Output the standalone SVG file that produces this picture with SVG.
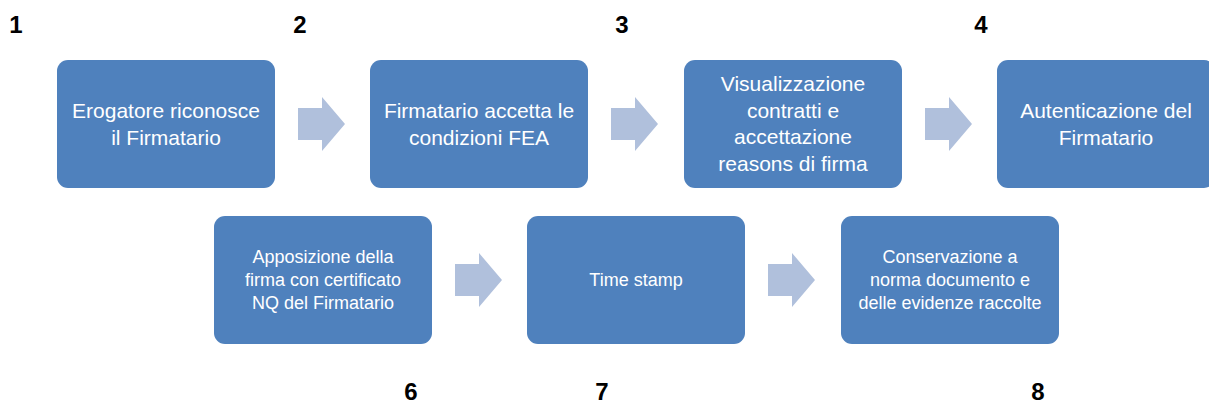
<svg xmlns="http://www.w3.org/2000/svg" width="1209" height="403" viewBox="0 0 1209 403">
<style>
.box{fill:#4F81BD;}
.t1{font-family:"Liberation Sans",Arial,sans-serif;font-size:21px;fill:#FFFFFF;text-anchor:middle;}
.t2{font-family:"Liberation Sans",Arial,sans-serif;font-size:18px;fill:#FFFFFF;text-anchor:middle;}
.num{font-family:"Liberation Sans",Arial,sans-serif;font-size:24px;font-weight:bold;fill:#000000;text-anchor:middle;}
.arr{fill:#B0C0DC;}
</style>
<defs>
<path id="arrow" d="M0,-16 H24 V-27 L47,0 L24,27 V16 H0 Z"/>
</defs>
<rect width="1209" height="403" fill="#FFFFFF"/>
<g id="numbers">
<text class="num" x="16" y="33">1</text>
<text class="num" x="300" y="33">2</text>
<text class="num" x="622" y="33">3</text>
<text class="num" x="981" y="33">4</text>
<text class="num" x="411" y="400">6</text>
<text class="num" x="602" y="400">7</text>
<text class="num" x="1038" y="400">8</text>
</g>
<g id="connectors">
<use href="#arrow" class="arr" x="298" y="124"/>
<use href="#arrow" class="arr" x="611" y="124"/>
<use href="#arrow" class="arr" x="925" y="124"/>
<use href="#arrow" class="arr" x="455" y="280"/>
<use href="#arrow" class="arr" x="768" y="280"/>
</g>
<g id="node1">
<rect class="box" x="57" y="60" width="218" height="128" rx="11"/>
<text class="t1" x="166" y="118">Erogatore riconosce</text>
<text class="t1" x="166" y="145">il Firmatario</text>
</g>
<g id="node2">
<rect class="box" x="370" y="60" width="218" height="128" rx="11"/>
<text class="t1" x="479" y="118">Firmatario accetta le</text>
<text class="t1" x="479" y="145">condizioni FEA</text>
</g>
<g id="node3">
<rect class="box" x="684" y="60" width="218" height="128" rx="11"/>
<text class="t1" x="793" y="91">Visualizzazione</text>
<text class="t1" x="793" y="118">contratti e</text>
<text class="t1" x="793" y="144">accettazione</text>
<text class="t1" x="793" y="171">reasons di firma</text>
</g>
<g id="node4">
<rect class="box" x="997" y="60" width="218" height="128" rx="11"/>
<text class="t1" x="1106" y="118">Autenticazione del</text>
<text class="t1" x="1106" y="145">Firmatario</text>
</g>
<g id="node6">
<rect class="box" x="214" y="216" width="218" height="128" rx="11"/>
<text class="t2" x="323" y="263">Apposizione della</text>
<text class="t2" x="323" y="286">firma con certificato</text>
<text class="t2" x="323" y="309">NQ del Firmatario</text>
</g>
<g id="node7">
<rect class="box" x="527" y="216" width="218" height="128" rx="11"/>
<text class="t2" x="636" y="286">Time stamp</text>
</g>
<g id="node8">
<rect class="box" x="841" y="216" width="218" height="128" rx="11"/>
<text class="t2" x="950" y="263">Conservazione a</text>
<text class="t2" x="950" y="286">norma documento e</text>
<text class="t2" x="950" y="309">delle evidenze raccolte</text>
</g>
</svg>
